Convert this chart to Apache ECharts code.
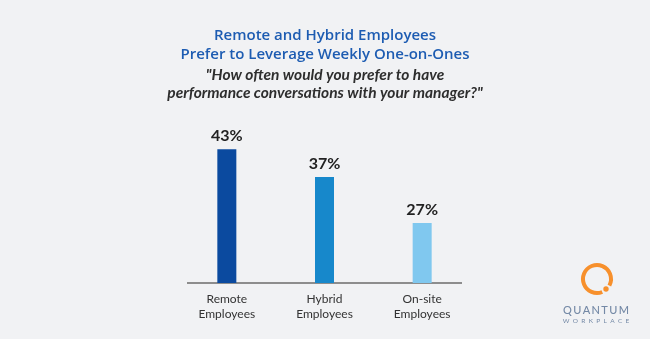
<!DOCTYPE html>
<html>
<head>
<meta charset="utf-8">
<script src="https://cdn.jsdelivr.net/npm/echarts@6/dist/echarts.min.js"></script>
<style>
  html, body { margin: 0; padding: 0; background: #f1f2f4; }
  #chart { width: 650px; height: 339px; }
</style>
</head>
<body>
<div id="chart"></div>
<script>
// Survey groups and the share preferring weekly one-on-ones (%)
const categories = ['Remote\nEmployees', 'Hybrid\nEmployees', 'On-site\nEmployees'];
const values = [43, 37, 27];
const barColors = ['#0b4a9f', '#1788cb', '#80c8ef'];

const chart = echarts.init(document.getElementById('chart'));

const option = {
  backgroundColor: '#f1f2f4',
  animation: false,
  title: [
    {
      text: 'Remote and Hybrid Employees\nPrefer to Leverage Weekly One-on-Ones',
      left: 'center',
      top: 21,
      textStyle: {
        fontFamily: 'Open Sans',
        fontWeight: 600,
        fontSize: 15,
        lineHeight: 19,
        color: '#1d5cb2'
      }
    },
    {
      text: '"How often would you prefer to have\nperformance conversations with your manager?"',
      left: 'center',
      top: 61,
      textStyle: {
        fontFamily: 'Lato',
        fontStyle: 'italic',
        fontWeight: 'bold',
        fontSize: 15.5,
        lineHeight: 18,
        color: '#2e2e2e'
      }
    }
  ],
  grid: {
    left: 178,
    width: 293,
    top: 140,
    bottom: 56,
    containLabel: false
  },
  xAxis: {
    type: 'category',
    data: categories,
    axisLine: { show: false },
    axisTick: { show: false },
    axisLabel: {
      margin: 9,
      fontFamily: 'Lato',
      fontSize: 12,
      lineHeight: 15,
      color: '#333'
    }
  },
  yAxis: {
    type: 'value',
    min: 14,
    max: 45,
    show: false,
    splitLine: { show: false }
  },
  series: [{
    type: 'bar',
    barWidth: 19,
    data: values.map((v, i) => ({ value: v, itemStyle: { color: barColors[i] } })),
    label: {
      show: true,
      position: 'top',
      distance: 5,
      formatter: '{c}%',
      fontFamily: 'Lato',
      fontWeight: 'bold',
      fontSize: 16,
      color: '#222'
    }
  }]
};

chart.setOption(option);

// Baseline under the bars and the brand mark in the corner
const baseY = chart.convertToPixel({ yAxisIndex: 0 }, 14);
const sp = '\u2009';
chart.setOption({
  graphic: [
    {
      type: 'line',
      shape: { x1: 187, y1: baseY, x2: 462, y2: baseY },
      style: { stroke: '#6b6b6b', lineWidth: 1.5 }
    },
    {
      type: 'arc',
      shape: { cx: 597, cy: 279, r: 14, startAngle: 68 * Math.PI / 180, endAngle: 388 * Math.PI / 180 },
      style: { stroke: '#f7902c', lineWidth: 4, fill: null }
    },
    {
      type: 'circle',
      shape: { cx: 606, cy: 289, r: 2.7 },
      style: { fill: '#f7902c' }
    },
    {
      type: 'text',
      style: {
        text: 'QUANTUM'.split('').join(sp),
        x: 596,
        y: 310,
        align: 'center',
        verticalAlign: 'middle',
        font: '500 11px Lato',
        fill: '#7489a6'
      }
    },
    {
      type: 'text',
      style: {
        text: 'WORKPLACE'.split('').join('  '),
        x: 596,
        y: 321,
        align: 'center',
        verticalAlign: 'middle',
        font: '6.5px Lato',
        fill: '#7489a6'
      }
    }
  ]
});
</script>
</body>
</html>
